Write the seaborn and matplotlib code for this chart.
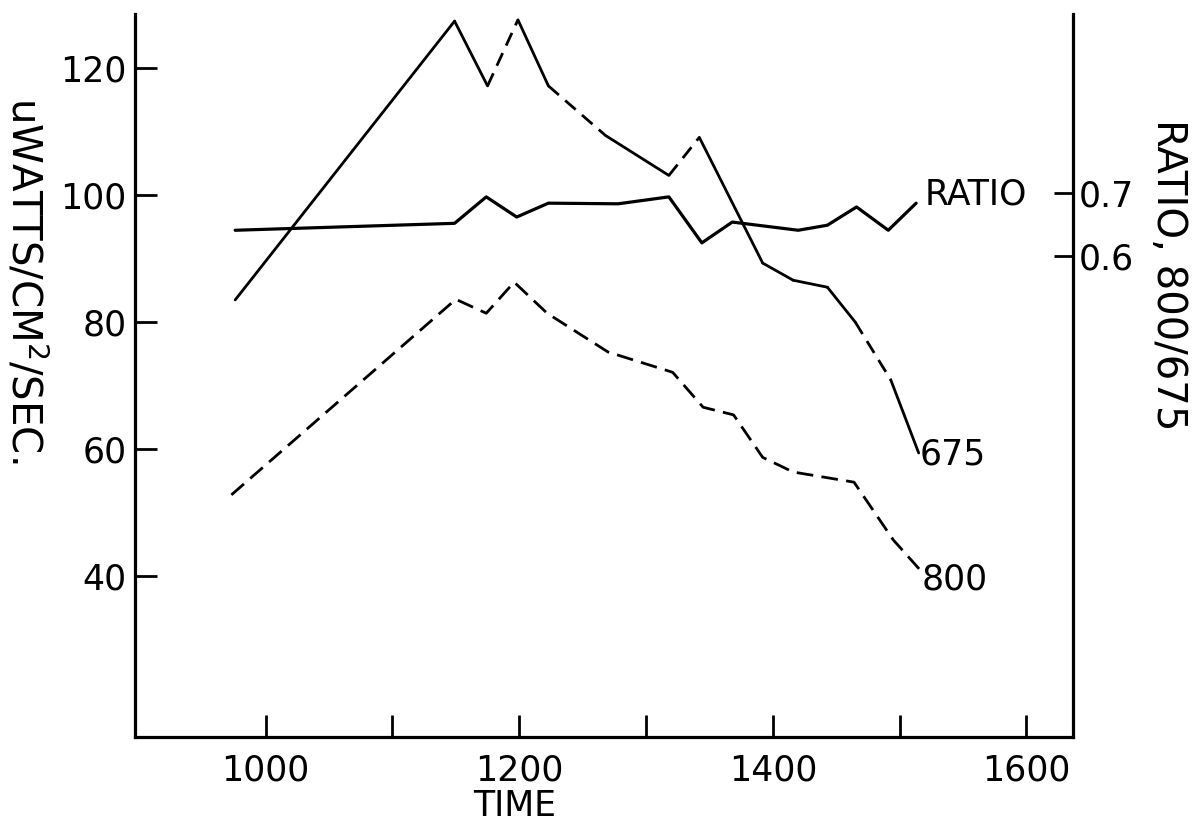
import numpy as np
import pandas as pd
import matplotlib
matplotlib.use("Agg")
import matplotlib.pyplot as plt
import seaborn as sns

# ---- data ----
time_675 = [976, 1149, 1175, 1199, 1223, 1268, 1318, 1342, 1392, 1416, 1443, 1465, 1493, 1515]
uw_675 = [83.5, 127.4, 117.2, 127.6, 117.2, 109.4, 103.1, 109.1, 89.3, 86.6, 85.5, 80.0, 70.9, 59.4]
dashed_675 = [False, False, True, False, True, False, True, False, False, False, False, True, False]

time_800 = [973, 1150, 1174, 1196, 1222, 1270, 1321, 1345, 1369, 1392, 1416, 1464, 1495, 1516]
uw_800 = [52.8, 83.6, 81.4, 86.3, 81.4, 75.3, 72.1, 66.6, 65.4, 58.7, 56.4, 54.8, 45.7, 41.0]

time_ratio = [976, 1149, 1174, 1198, 1223, 1278, 1318, 1344, 1368, 1420, 1443, 1466, 1491, 1513]
ratio = [0.641, 0.652, 0.694, 0.662, 0.684, 0.683, 0.694, 0.621, 0.654, 0.641, 0.649, 0.678, 0.641, 0.684]

x_ticks = [1000, 1100, 1200, 1300, 1400, 1500, 1600]
x_labels = ["1000", "", "1200", "", "1400", "", "1600"]
y_ticks = [40, 60, 80, 100, 120]
r_ticks = [0.6, 0.7]

# ---- style ----
sns.set_style("ticks")
plt.rcParams["font.family"] = ["DejaVu Sans"]
plt.rcParams["text.color"] = "black"
plt.rcParams["axes.labelcolor"] = "black"
FS = 25
FS_LAB = 29
LW = 2.0

fig = plt.figure(figsize=(12, 8.32), dpi=100)
ax = fig.add_axes([0.1125, 0.114, 0.782, 0.869])
ax2 = ax.twinx()

# 675 line: segments, some dashed
rows = []
for i in range(len(time_675) - 1):
    kind = "dashed" if dashed_675[i] else "solid"
    rows.append((time_675[i], uw_675[i], i, kind))
    rows.append((time_675[i + 1], uw_675[i + 1], i, kind))
df675 = pd.DataFrame(rows, columns=["time", "uw", "seg", "kind"])
sns.lineplot(data=df675, x="time", y="uw", units="seg", style="kind",
             dashes={"solid": "", "dashed": (5, 3)}, estimator=None, sort=False,
             color="black", lw=LW, legend=False, ax=ax)

df800 = pd.DataFrame({"time": time_800, "uw": uw_800})
sns.lineplot(data=df800, x="time", y="uw", sort=False, estimator=None,
             color="black", lw=LW, ax=ax, dashes=False, linestyle=(0, (6, 3)))

dfr = pd.DataFrame({"time": time_ratio, "ratio": ratio})
sns.lineplot(data=dfr, x="time", y="ratio", sort=False, estimator=None,
             color="black", lw=LW + 0.3, ax=ax2)

# axes limits
ax.set_xlim(897, 1637)
ax.set_ylim(14.65, 128.5)
ax2.set_ylim(-0.1635, 0.984)

ax.set_xticks(x_ticks)
ax.set_xticklabels(x_labels)
ax.set_yticks(y_ticks)
ax2.set_yticks(r_ticks)
ax2.set_yticklabels([f"{v:.1f}" for v in r_ticks])

ax.tick_params(axis="x", direction="in", length=16, width=LW, labelsize=FS, pad=12, colors="black")
ax.tick_params(axis="y", direction="in", length=16, width=LW, labelsize=FS, pad=6, colors="black")
ax2.tick_params(axis="y", direction="in", length=14, width=LW, labelsize=FS, pad=4, colors="black")

for a in (ax, ax2):
    for s in a.spines.values():
        s.set_linewidth(2.3)
        s.set_color("black")
    a.spines["top"].set_visible(False)
ax.spines["right"].set_visible(False)
ax2.spines["left"].set_visible(False)
ax2.spines["bottom"].set_visible(False)

ax.set_xlabel("TIME", fontsize=FS)
ax.xaxis.set_label_coords(0.405, -0.072)
ax.xaxis.label.set_va("top")

ax.set_ylabel("uWATTS/CM$^2$/SEC.", fontsize=FS_LAB, rotation=-90, va="center", ha="center")
ax.yaxis.set_label_coords(-0.118, 0.632)

ax2.set_ylabel("RATIO, 800/675", fontsize=FS_LAB, rotation=-90, va="center", ha="center")
ax2.yaxis.set_label_coords(1.101, 0.64)

# inline series labels
ax2.annotate("RATIO", xy=(time_ratio[-1], ratio[-1]), xytext=(6, 6),
             textcoords="offset points", ha="left", va="center", fontsize=FS)
ax.annotate("675", xy=(time_675[-1], uw_675[-1]), xytext=(1, -1),
            textcoords="offset points", ha="left", va="center", fontsize=FS)
ax.annotate("800", xy=(time_800[-1], uw_800[-1]), xytext=(1, -7),
            textcoords="offset points", ha="left", va="center", fontsize=FS)

fig.savefig("out.png", dpi=100)
